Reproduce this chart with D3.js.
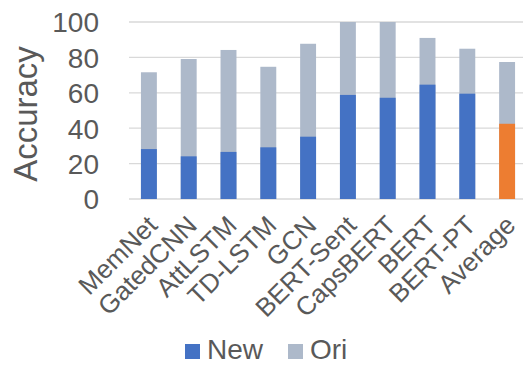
<!DOCTYPE html>
<html><head><meta charset="utf-8">
<script src="https://cdn.jsdelivr.net/npm/d3@7"></script>
<style>html,body{margin:0;padding:0;background:#fff;overflow:hidden}</style>
</head><body>
<svg id="c" width="523" height="366"></svg>
<script>
const categories = ["MemNet","GatedCNN","AttLSTM","TD-LSTM","GCN","BERT-Sent","CapsBERT","BERT","BERT-PT","Average"];
const newValues = [28.2, 24.1, 26.6, 29.2, 35.2, 58.8, 57.2, 64.6, 59.5, 42.5];
const oriValues = [71.6, 79.1, 84.2, 74.7, 87.7, 100, 100, 91.0, 84.9, 77.4];
const yTicks = [0, 20, 40, 60, 80, 100];
const seriesNames = ["New", "Ori"];

const font = "'Liberation Sans', Arial, Helvetica, sans-serif";
const textColor = "#595959";
const cNew = "#4472C4", cOri = "#ADB9CA", cAvg = "#ED7D31";

const svg = d3.select("#c");
const x = d3.scaleBand().domain(categories).range([129, 527]).paddingInner(0.6).paddingOuter(0.3);
const y = d3.scaleLinear().domain([0, 100]).range([199, 22]);

// gridlines
svg.append("g").selectAll("line").data(yTicks).join("line")
  .attr("x1", 129).attr("x2", 523)
  .attr("y1", d => y(d)).attr("y2", d => y(d))
  .attr("stroke", "#D9D9D9").attr("stroke-width", 1.3);

// y axis labels
const yAxis = d3.axisLeft(y).tickValues(yTicks).tickSize(0).tickPadding(0);
const gy = svg.append("g").attr("transform", "translate(99,0)").call(yAxis);
gy.select(".domain").remove();
gy.selectAll("text").attr("font-family", font).attr("font-size", 28).attr("fill", textColor).attr("dy", "0.35em");

// bars
const g = svg.append("g");
g.selectAll("rect.ori").data(categories).join("rect").attr("class","ori")
  .attr("x", d => x(d)).attr("width", x.bandwidth())
  .attr("y", (d,i) => y(oriValues[i])).attr("height", (d,i) => y(0) - y(oriValues[i]))
  .attr("fill", cOri);
g.selectAll("rect.new").data(categories).join("rect").attr("class","new")
  .attr("x", d => x(d)).attr("width", x.bandwidth())
  .attr("y", (d,i) => y(newValues[i])).attr("height", (d,i) => y(0) - y(newValues[i]))
  .attr("fill", (d,i) => d === "Average" ? cAvg : cNew);

// x labels
const xAxis = d3.axisBottom(x).tickSize(0).tickPadding(0);
const gx = svg.append("g").attr("transform", "translate(0,199)").call(xAxis);
gx.select(".domain").remove();
gx.selectAll("text")
  .attr("font-family", font).attr("font-size", 26).attr("fill", textColor)
  .attr("text-anchor", "end")
  .attr("transform", "translate(-3,15) rotate(-45)")
  .attr("dy", "0.7em").attr("y", 0).attr("x", 0);

// y title
svg.append("text").attr("transform", "translate(37,114) rotate(-90)")
  .attr("text-anchor", "middle").attr("font-family", font).attr("font-size", 33)
  .attr("fill", textColor).text("Accuracy");

// legend
const leg = svg.append("g");
const legX = [185, 288];
const legColors = [cNew, cOri];
seriesNames.forEach((n, i) => {
  leg.append("rect").attr("x", legX[i]).attr("y", 344).attr("width", 15).attr("height", 15).attr("fill", legColors[i]);
  leg.append("text").attr("x", legX[i] + 22).attr("y", 359).attr("font-family", font).attr("font-size", 28)
    .attr("fill", textColor).text(n);
});
</script>
</body></html>
